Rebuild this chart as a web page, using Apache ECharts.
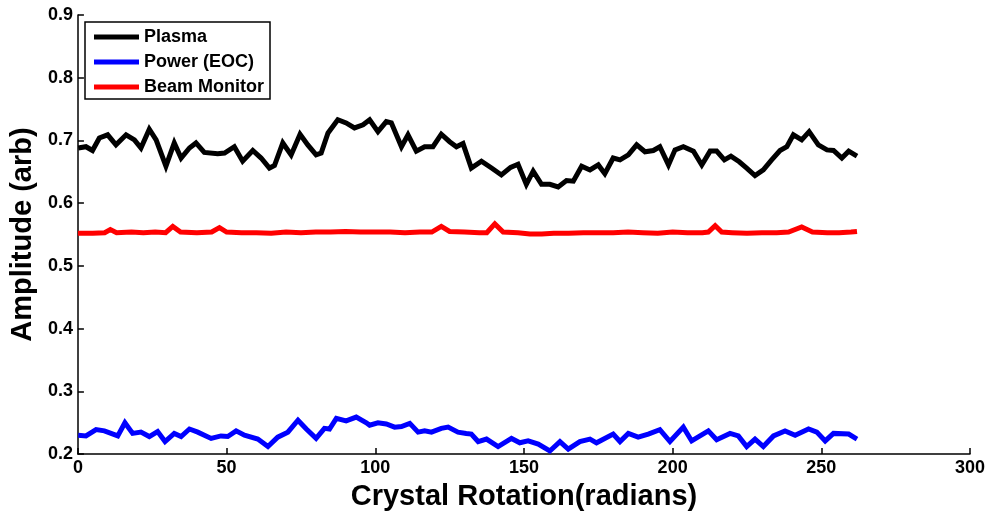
<!DOCTYPE html>
<html>
<head>
<meta charset="utf-8">
<title>Amplitude vs Crystal Rotation</title>
<script src="https://cdn.jsdelivr.net/npm/echarts@6/dist/echarts.min.js"></script>
<style>
  html, body { margin: 0; padding: 0; background: #fff; }
  #chart { width: 989px; height: 516px; }
</style>
</head>
<body>
<div id="chart"></div>
<script>
// Plasma signal
const plasmaRotation = [0.1, 2.7, 4.9, 7.2, 10, 12.8, 16.2, 19, 21.2, 24, 26.3, 29.6, 32.4, 34.7, 37.5, 39.7, 42.5, 47, 49.3, 52.6, 55.4, 58.8, 61.6, 64.4, 66.1, 68.9, 71.7, 74.7, 77.3, 80.1, 81.8, 84.1, 87.4, 90.2, 93, 95.9, 98.1, 100.9, 103.7, 105.4, 108.8, 111, 113.8, 116.6, 119.4, 122.2, 125, 127.3, 129.5, 132.3, 135.7, 139.1, 142.4, 145.5, 148, 150.8, 153.1, 155.9, 158.7, 161.5, 164.3, 166.6, 169.4, 172.2, 175, 177.2, 180, 182.3, 185.1, 187.9, 190.7, 193.5, 195.7, 198.6, 200.8, 203.6, 207, 209.8, 212.6, 214.8, 217.4, 219.6, 222.4, 224.9, 227.7, 230.5, 233.3, 236.1, 238.4, 240.6, 243.4, 245.9, 249, 251.9, 254.1, 256.9, 259.2, 262];
const plasmaAmplitude = [0.688, 0.690, 0.684, 0.704, 0.709, 0.693, 0.709, 0.701, 0.688, 0.718, 0.701, 0.659, 0.696, 0.672, 0.688, 0.696, 0.681, 0.679, 0.680, 0.690, 0.667, 0.684, 0.672, 0.656, 0.660, 0.696, 0.677, 0.710, 0.693, 0.677, 0.680, 0.712, 0.733, 0.728, 0.720, 0.725, 0.733, 0.714, 0.730, 0.728, 0.690, 0.709, 0.683, 0.690, 0.690, 0.710, 0.698, 0.690, 0.695, 0.656, 0.667, 0.656, 0.645, 0.657, 0.662, 0.630, 0.651, 0.630, 0.630, 0.626, 0.636, 0.635, 0.659, 0.653, 0.661, 0.647, 0.672, 0.669, 0.677, 0.693, 0.682, 0.684, 0.690, 0.661, 0.685, 0.690, 0.683, 0.661, 0.683, 0.683, 0.669, 0.675, 0.666, 0.656, 0.644, 0.653, 0.669, 0.684, 0.690, 0.709, 0.701, 0.714, 0.693, 0.685, 0.684, 0.672, 0.683, 0.675];

// Power (EOC)
const powerRotation = [0.1, 2.7, 6.1, 8.9, 13.4, 15.8, 18.4, 21.2, 24, 26.8, 29.3, 32.4, 34.7, 37.5, 40.3, 44.8, 48.1, 50.4, 53.2, 56, 60.5, 63.9, 67.2, 70.6, 74, 76.8, 80.1, 82.9, 84.6, 86.9, 90.2, 93.6, 97, 98.1, 100.9, 103.7, 106.5, 108.8, 111.6, 114.4, 116.6, 118.9, 122.2, 124.5, 127.8, 130.6, 132.3, 134.6, 137.4, 141.3, 145.8, 148.6, 151.4, 154.8, 158.7, 162.1, 164.9, 168.8, 172.2, 174.4, 180, 182.3, 185.1, 188.4, 191.8, 195.7, 199.1, 203.6, 206.4, 212, 214.8, 219.3, 222.1, 224.9, 227.7, 230.5, 233.9, 237.8, 241.2, 245.7, 248.5, 251.3, 254.1, 259.2, 262];
const powerAmplitude = [0.230, 0.229, 0.239, 0.237, 0.229, 0.250, 0.233, 0.235, 0.228, 0.236, 0.220, 0.233, 0.228, 0.240, 0.235, 0.225, 0.229, 0.228, 0.237, 0.230, 0.224, 0.212, 0.227, 0.235, 0.254, 0.240, 0.225, 0.241, 0.240, 0.257, 0.253, 0.259, 0.250, 0.246, 0.250, 0.248, 0.243, 0.244, 0.249, 0.235, 0.237, 0.235, 0.241, 0.243, 0.235, 0.233, 0.232, 0.220, 0.224, 0.212, 0.225, 0.218, 0.221, 0.216, 0.205, 0.220, 0.208, 0.220, 0.224, 0.218, 0.232, 0.220, 0.233, 0.227, 0.232, 0.239, 0.220, 0.243, 0.221, 0.237, 0.223, 0.233, 0.229, 0.212, 0.224, 0.212, 0.229, 0.237, 0.230, 0.240, 0.235, 0.221, 0.233, 0.232, 0.224];

// Beam monitor
const beamRotation = [0, 5, 9, 10.9, 13, 18, 22, 26, 29.5, 31.9, 34.5, 40, 45, 47.6, 50, 55, 60, 65, 70, 75, 80, 85, 90, 95, 100, 105, 110, 115, 119, 122.2, 125, 130, 135, 137.5, 140.2, 143, 148, 152, 156, 160, 165, 170, 175, 180, 185, 190, 195, 200, 205, 210, 212, 214.3, 216.5, 220, 225, 230, 235, 239, 243.4, 247, 252, 256, 260, 262];
const beamAmplitude = [0.552, 0.552, 0.553, 0.558, 0.553, 0.554, 0.553, 0.554, 0.553, 0.563, 0.554, 0.553, 0.554, 0.561, 0.554, 0.553, 0.553, 0.552, 0.554, 0.553, 0.554, 0.554, 0.555, 0.554, 0.554, 0.554, 0.553, 0.554, 0.554, 0.563, 0.555, 0.554, 0.553, 0.553, 0.567, 0.554, 0.553, 0.551, 0.551, 0.552, 0.552, 0.553, 0.553, 0.553, 0.554, 0.553, 0.552, 0.554, 0.553, 0.553, 0.554, 0.564, 0.554, 0.553, 0.552, 0.553, 0.553, 0.554, 0.562, 0.554, 0.553, 0.553, 0.554, 0.555];

// Axis ticks
const xTicks = [0, 50, 100, 150, 200, 250, 300];
const yTicks = [0.2, 0.3, 0.4, 0.5, 0.6, 0.7, 0.8, 0.9];

const seriesNames = ['Plasma', 'Power (EOC)', 'Beam Monitor'];
const seriesColors = ['#000000', '#0000ff', '#ff0000'];

function pairs(xs, ys) {
  return xs.map((x, i) => [x, ys[i]]);
}

const FONT = '"Liberation Sans", Arial, sans-serif';

const chart = echarts.init(document.getElementById('chart'), null, { renderer: 'canvas' });

const axisCommon = {
  axisLine: { show: true, onZero: false, lineStyle: { color: '#000', width: 1.5 } },
  axisTick: { show: true, inside: true, length: 6, lineStyle: { color: '#000', width: 1.5 } },
  splitLine: { show: false },
  axisLabel: { color: '#000', fontFamily: FONT, fontWeight: 'bold', fontSize: 18 },
  nameTextStyle: { color: '#000', fontFamily: FONT, fontWeight: 'bold', fontSize: 29 }
};

chart.setOption({
  animation: false,
  backgroundColor: '#fff',
  grid: { left: 77, right: 19, top: 15, bottom: 61, containLabel: false },
  legend: {
    orient: 'vertical',
    left: 85,
    top: 22,
    data: seriesNames.map(n => ({ name: n, icon: 'rect' })),
    itemWidth: 45,
    itemHeight: 5,
    itemGap: 7,
    padding: [6, 6, 3, 9],
    borderColor: '#000',
    borderWidth: 1.5,
    backgroundColor: '#fff',
    textStyle: { color: '#000', fontFamily: FONT, fontWeight: 'bold', fontSize: 18, lineHeight: 18 }
  },
  xAxis: Object.assign({}, axisCommon, {
    type: 'value',
    min: xTicks[0],
    max: xTicks[xTicks.length - 1],
    interval: xTicks[1] - xTicks[0],
    name: 'Crystal Rotation(radians)',
    nameLocation: 'middle',
    nameGap: 25,
    axisLabel: Object.assign({}, axisCommon.axisLabel, { margin: 5 })
  }),
  yAxis: Object.assign({}, axisCommon, {
    type: 'value',
    min: yTicks[0],
    max: yTicks[yTicks.length - 1],
    interval: 0.1,
    name: 'Amplitude (arb)',
    nameLocation: 'middle',
    nameGap: 34,
    axisLabel: Object.assign({}, axisCommon.axisLabel, {
      margin: 5,
      formatter: v => v.toFixed(1)
    })
  }),
  series: [
    { name: seriesNames[0], data: pairs(plasmaRotation, plasmaAmplitude) },
    { name: seriesNames[1], data: pairs(powerRotation, powerAmplitude) },
    { name: seriesNames[2], data: pairs(beamRotation, beamAmplitude) }
  ].map((s, i) => ({
    type: 'line',
    name: s.name,
    data: s.data,
    showSymbol: false,
    symbol: 'none',
    color: seriesColors[i],
    lineStyle: { color: seriesColors[i], width: 5, join: 'miter' }
  }))
});
</script>
</body>
</html>
